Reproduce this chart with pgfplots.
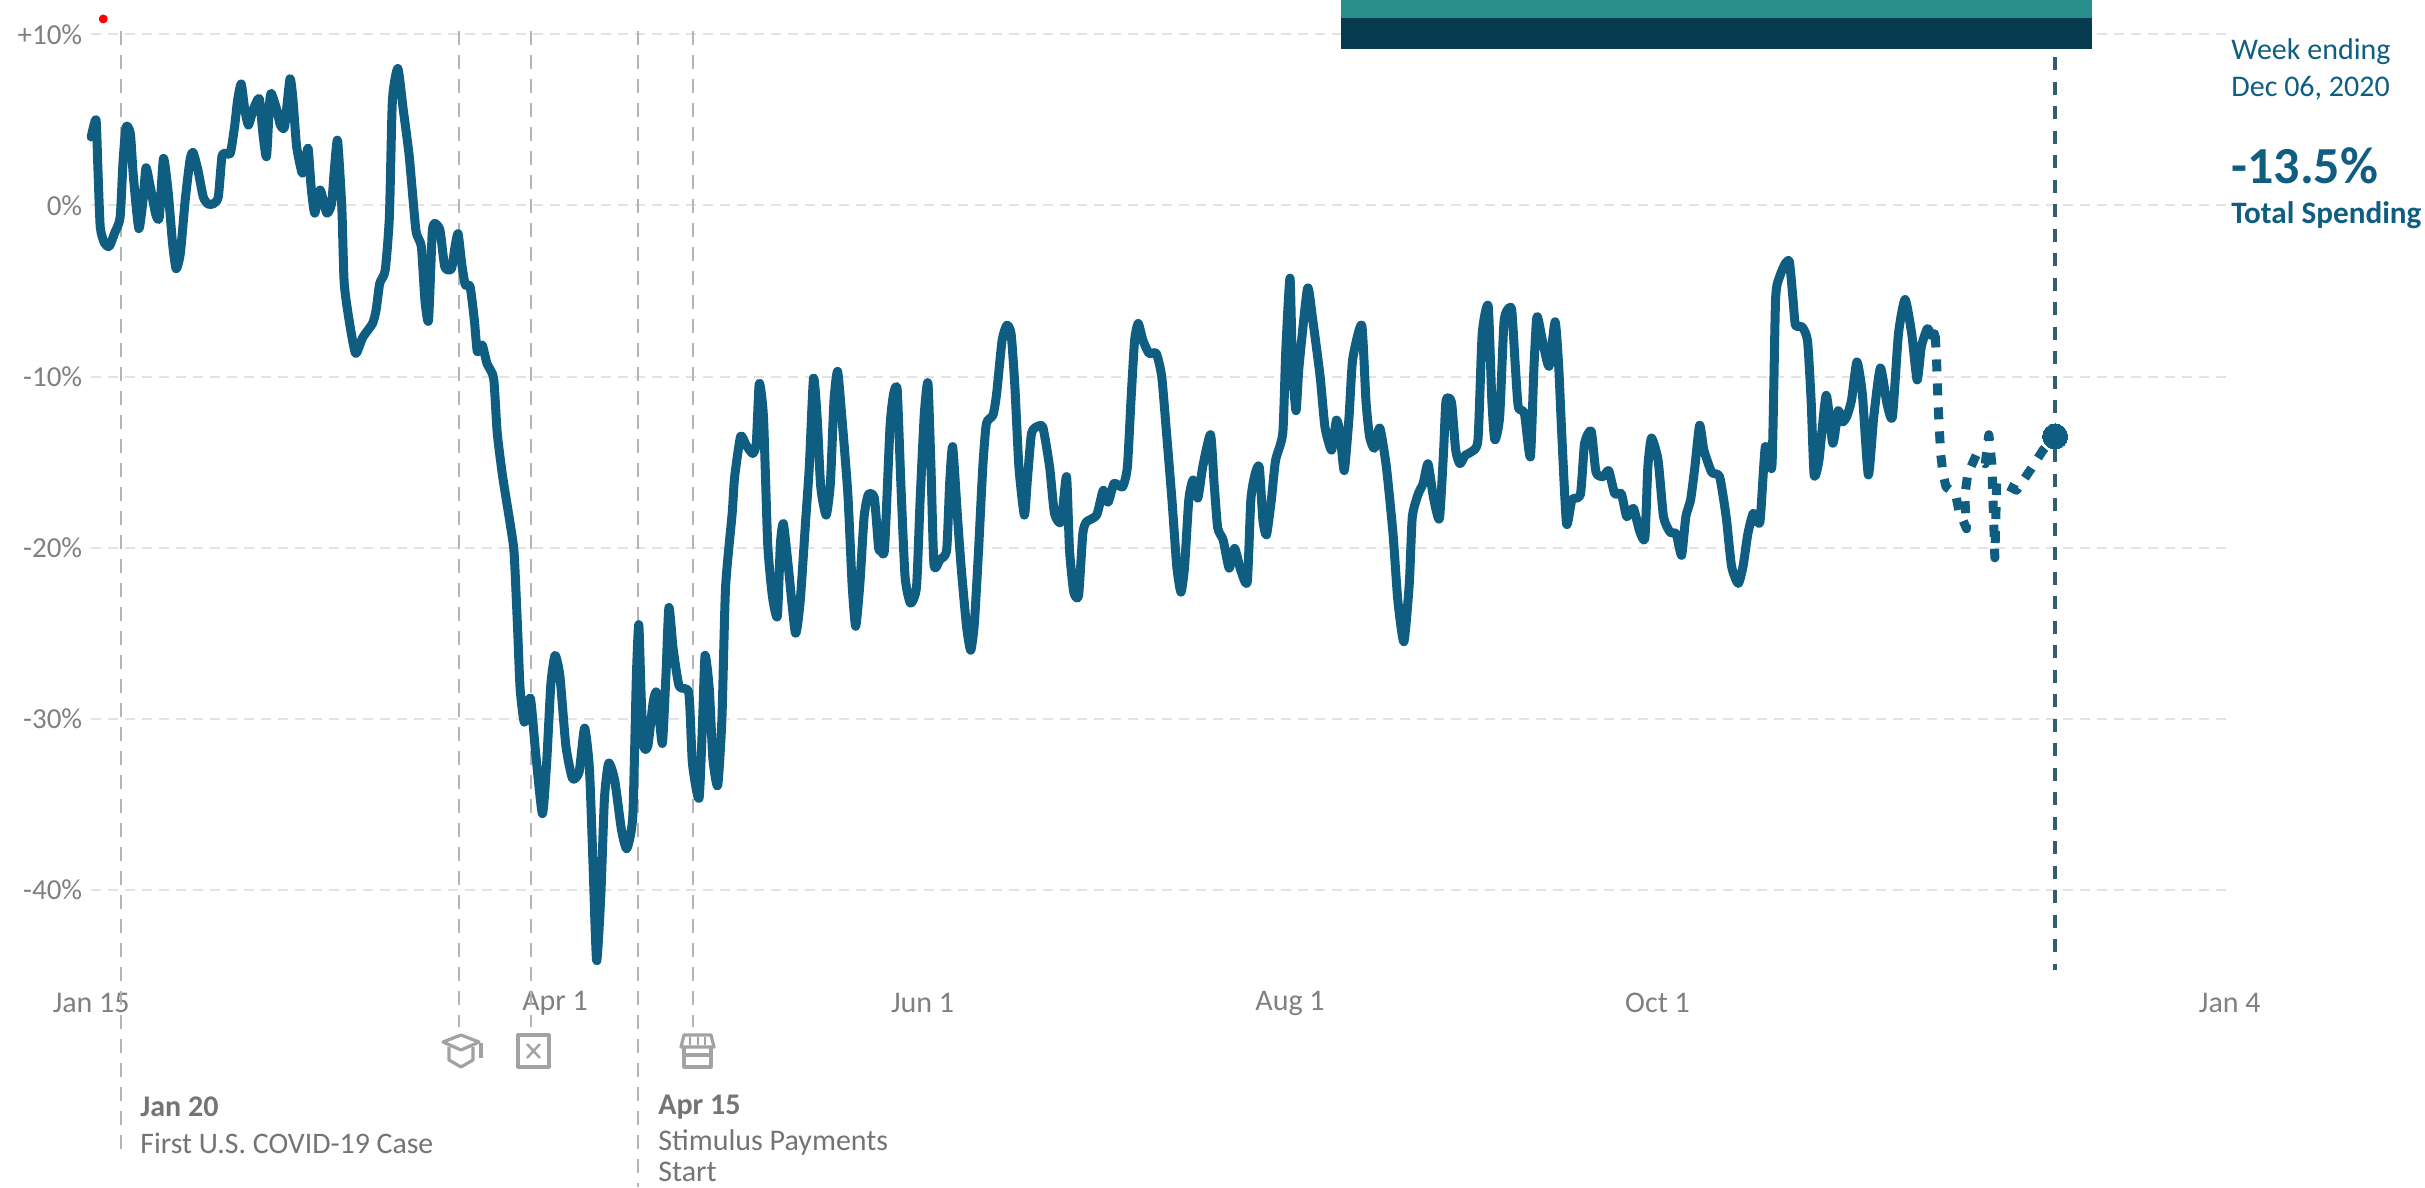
\documentclass[border=0pt]{standalone}
\usepackage{fontspec}
\setmainfont{Carlito}
\usepackage{pgfplots}
\pgfplotsset{compat=1.18}
\definecolor{spend}{HTML}{0F5E82}
\definecolor{teal1}{HTML}{288E8A}
\definecolor{navy1}{HTML}{063B50}
\definecolor{cursor}{HTML}{2F5F70}
\definecolor{gridc}{HTML}{E3E3E3}
\definecolor{eventc}{HTML}{B4B4B4}
\definecolor{tickc}{HTML}{808080}
\definecolor{iconc}{HTML}{A2A2A2}
\definecolor{evtxt}{HTML}{747474}

% x: days since Jan 15, y: percent change
\begin{document}
\begin{tikzpicture}
\path[use as bounding box] (-45.6pt,-106.35pt) rectangle (1166.9pt,487.65pt);
\begin{axis}[
  at={(0pt,0pt)}, anchor=south west,
  scale only axis, width=1069.26pt, height=470.47pt,
  xmin=0, xmax=355, ymin=-45, ymax=10,
  clip=false,
  axis line style={draw=none},
  tick style={draw=none},
  major tick length=0pt,
  ytick={-40,-30,-20,-10,0,10},
  yticklabels={-40\%,-30\%,-20\%,-10\%,0\%,+10\%},
  xtick={0,77,138,199,260,355},
  xticklabels={Jan 15,Apr 1,Jun 1,Aug 1,Oct 1,Jan 4},
  xticklabel style={anchor=center,yshift=-14pt,font=\fontsize{15}{18}\selectfont,text=tickc},
  yticklabel style={anchor=east,inner sep=0pt,xshift=-4.3pt,font=\fontsize{14.5}{17}\selectfont,text=tickc},
  ymajorgrids,
  grid style={gridc,line width=1pt,dash pattern=on 5pt off 3.5pt},
]
% event lines
\addplot[eventc,line width=0.85pt,dash pattern=on 7pt off 5pt] coordinates {(5,10.2)(5,-55.4)};
\addplot[eventc,line width=0.85pt,dash pattern=on 7pt off 5pt] coordinates {(61,10.2)(61,-48)};
\addplot[eventc,line width=0.85pt,dash pattern=on 7pt off 5pt] coordinates {(73,10.2)(73,-48)};
\addplot[eventc,line width=0.85pt,dash pattern=on 7pt off 5pt] coordinates {(90.8,10.2)(90.8,-57.4)};
\addplot[eventc,line width=0.85pt,dash pattern=on 7pt off 5pt] coordinates {(99.9,10.2)(99.9,-48)};
% cursor
\addplot[cursor,line width=1.8pt,dash pattern=on 6.5pt off 5.75pt] coordinates {(326,8.67)(326,-44.7)};
% red dot
\addplot[only marks,mark=*,mark size=2pt,red,mark options={draw=none,fill=red}] coordinates {(2,10.9)};
% weekly spending, solid part
\addplot[spend,line width=4.5pt,line join=round,line cap=round,smooth,tension=0.35] table {
0 4.0
0.8 5.0
1.1 2.3
1.5 -1.25
2.2 -2.2
3 -2.4
3.9 -1.6
4.8 -0.7
5.3 2.65
5.8 4.6
6.5 4.2
7 1.7
7.9 -1.35
8.6 0.3
9.1 2.2
9.8 1.1
10.7 -0.5
11.3 -0.7
12 2.75
12.8 0.7
13.5 -2.2
14.1 -3.7
14.8 -2.8
15.6 0.3
16.4 2.65
16.9 3.1
17.7 2.1
18.6 0.5
19.4 0.08
20.3 0.1
21.1 0.5
21.7 2.85
22.3 3.05
23.1 3.05
23.8 4.6
24.3 6.15
24.9 7.1
25.5 5.6
26.1 4.7
26.9 5.6
27.9 6.25
28.5 4.2
29.1 2.85
29.6 5.95
29.9 6.55
30.8 5.6
31.4 4.7
32.1 4.6
33 7.4
33.5 6.15
34.1 3.45
35 1.9
35.4 2.25
36 3.35
36.5 1.1
37.1 -0.45
38 0.9
39.1 -0.45
39.9 0.1
40.4 2.25
40.9 3.8
41.6 -0.1
42 -4.55
42.9 -6.9
43.9 -8.65
45.1 -7.7
46.7 -6.9
47.3 -6.1
47.9 -4.55
48.8 -3.8
49.5 -0.65
50 6.15
50.9 8.0
51.8 5.6
52.8 2.85
53.9 -1.45
54.8 -2.4
55.4 -5.55
56 -6.7
56.6 -1.65
57 -1.05
57.9 -1.45
58.7 -3.6
59.8 -3.7
60.4 -2.4
60.9 -1.65
61.5 -3.4
62.1 -4.65
62.9 -4.75
63.6 -6.7
64.1 -8.55
64.9 -8.15
65.7 -9.25
66.8 -10.1
67.4 -13.3
68.3 -15.85
69.5 -18.5
70.2 -20.3
70.8 -24.9
71.2 -28.25
71.9 -30.2
72.9 -28.8
73.8 -32.1
74.9 -35.55
75.6 -32.6
76.3 -28
77 -26.3
77.8 -27.5
78.8 -31.6
79.9 -33.5
81 -33.1
81.9 -30.55
82.7 -32.9
83.3 -38.5
83.9 -44.15
84.6 -40.3
85.2 -34.65
85.9 -32.6
86.9 -33.6
88 -36.45
88.9 -37.6
89.9 -35.7
90.5 -27.5
90.9 -24.5
91.3 -28.75
91.7 -31.6
92.4 -31.6
93.3 -29
93.9 -28.5
94.8 -31.45
95.4 -27.5
95.9 -23.5
96.6 -25.9
97.6 -28.1
99.2 -28.5
99.8 -32.6
100.9 -34.65
101.5 -30
101.9 -26.3
102.6 -28.25
103.2 -32.35
104 -33.9
104.7 -30
105.3 -22.35
106.4 -18
106.8 -15.9
107.8 -13.5
108.7 -14
109.8 -14.5
110.4 -13.9
110.9 -10.4
111.6 -12.4
112.3 -19.8
113.1 -22.9
113.9 -24
114.4 -19.8
114.9 -18.6
115.7 -21.05
116.9 -25
117.7 -23.1
118.6 -18.4
119.2 -15.3
119.9 -10.1
120.5 -12.35
121.1 -16.45
122 -18.1
122.7 -16.25
123.3 -11.4
123.9 -9.7
124.6 -12.35
125.6 -16.85
126.3 -22.1
126.9 -24.6
127.6 -22.1
128.3 -18.2
129 -16.9
130 -17.1
130.7 -20
131.1 -20.15
131.7 -20.05
132.6 -12.95
133.2 -11
133.8 -10.8
134.4 -16.25
135.1 -21.7
136 -23.25
137 -22.3
137.6 -17.2
138.3 -12.15
138.9 -10.4
139.4 -15.3
139.9 -21
140.9 -20.7
142 -20.15
142.5 -16.25
143 -14.1
143.8 -18.2
144.4 -21.1
145.3 -24.6
146 -26
146.6 -24.45
147.3 -20.15
148 -15.3
148.6 -12.75
149.7 -12.25
150.3 -11
151.2 -7.9
152 -7
152.7 -7.5
153.3 -10.4
154 -15.3
154.9 -18.1
155.4 -16.05
156.1 -13.3
157.2 -12.9
158 -13
159.1 -15.3
159.9 -18
161 -18.5
161.9 -15.85
162.4 -20.15
163.1 -22.6
163.9 -22.8
164.6 -19.2
165.2 -18.5
166.9 -18.1
168 -16.65
168.8 -17.35
169.8 -16.25
171.2 -16.45
172 -15.3
172.6 -11.4
173.2 -7.9
173.8 -6.9
174.6 -7.9
175.6 -8.65
176.8 -8.65
177.7 -10
178.5 -13.3
179.4 -17.2
180.2 -21.1
180.9 -22.6
181.5 -21.1
182.2 -17.2
182.9 -16.05
183.7 -17.1
184.5 -15.3
185.8 -13.4
186.4 -16.25
187 -18.85
187.9 -19.55
188.9 -21.2
189.8 -20.05
190.8 -21.3
191.9 -22
192.5 -17.2
193.2 -15.7
193.9 -15.3
194.5 -18.4
195.1 -19.25
195.9 -17.2
196.6 -14.9
197.8 -13.3
198.3 -8.45
199 -4.25
199.4 -9.4
200 -12
200.5 -9.4
201.9 -4.85
202.7 -6.5
204 -10
204.8 -12.95
205.9 -14.3
206.7 -12.55
207.3 -13.3
208 -15.5
208.8 -12.35
209.4 -9
210.9 -7
211.6 -11.4
212.2 -13.5
213 -14.2
213.9 -13
215 -15.3
216.1 -19.2
216.9 -23.1
217.9 -25.5
218.8 -22.1
219.3 -18.2
220.3 -16.85
221.1 -16.25
221.9 -15.1
222.8 -17.05
223.8 -18.3
224.5 -14.3
224.9 -11.4
225.8 -11.5
226.5 -14.3
227.2 -15.1
228.1 -14.6
229.1 -14.4
230.2 -13.7
230.9 -7.5
231.9 -5.9
232.5 -11.4
233 -13.7
233.8 -12.35
234.5 -6.9
235.1 -6.1
235.8 -6.1
236.4 -9.4
236.9 -11.8
237.9 -12.15
238.9 -14.7
239.5 -9.4
240 -6.5
240.9 -7.9
242 -9.4
243 -6.8
243.6 -9.4
244.1 -13.3
244.9 -18.6
245.8 -17.2
247.2 -16.9
247.9 -13.9
249 -13.2
249.8 -15.6
251 -15.85
251.9 -15.5
252.9 -16.85
254 -16.85
254.9 -18.2
256 -17.7
257 -19
257.9 -19.45
258.4 -15.3
259 -13.6
260.1 -14.9
261 -18.2
262.1 -19.1
263.1 -19.2
264 -20.45
264.7 -18.2
265.5 -17.2
266.2 -15.3
267 -12.85
267.7 -14.3
269 -15.6
270.3 -15.85
271.4 -18.2
272.3 -21.1
273.4 -22.1
274.2 -21.1
275 -19.2
275.9 -18
277 -18.5
277.9 -14.1
279 -15.2
279.6 -5.5
280.3 -4.15
281.2 -3.4
281.9 -3.3
282.5 -5.5
282.9 -7
284 -7.1
284.9 -7.9
285.5 -11.4
286 -15.75
286.8 -14.9
288 -11.1
289.1 -13.9
290 -12
290.7 -12.65
291.4 -12.35
292.2 -11.4
293.1 -9.15
294 -11
295 -15.75
295.9 -12.35
297 -9.5
298.1 -11.6
299 -12.35
300 -7.5
301.1 -5.5
302.2 -7.5
303.1 -10.2
303.8 -8.25
304.8 -7.2
305.5 -7.6
306 -7.5
};
% most recent weeks, dotted
\addplot[spend,line width=4.5pt,line join=round,dash pattern=on 6pt off 6pt] table {
306.1 -7.6
306.3 -8.85
306.6 -11.8
307 -14.5
307.4 -15.7
307.9 -16.45
309.5 -16.9
310 -17.8
311.3 -18.9
311 -17
311.5 -15.7
312.9 -14.6
314.4 -15.1
315 -13.4
315.5 -15.1
316 -20.6
316.3 -16.25
317.4 -16.25
319.6 -16.65
322 -15.4
324 -14.3
326 -13.5
};
\addplot[spend,only marks,mark=*,mark size=6.25pt,mark options={draw=spend,line width=0pt,fill=spend}] coordinates {(326,-13.5)};
\end{axis}
% page furniture in image pixels
\begin{scope}[shift={(-45.6pt,487.65pt)},x=0.5pt,y=-0.5pt]
  \fill[teal1] (1341,0) rectangle (2092,19);
  \fill[navy1] (1341,18) rectangle (2092,49);
  \begin{scope}[every node/.style={anchor=west,inner sep=0pt,text=spend}]
    \node at (2231,52) {\fontsize{15}{18}\selectfont Week ending};
    \node at (2231,88) {\fontsize{15}{18}\selectfont Dec 06, 2020};
    \node at (2231,166) {\fontsize{26}{30}\selectfont\bfseries -13.5\%};
    \node at (2231,215) {\fontsize{15.6}{18}\selectfont\bfseries Total Spending};
  \end{scope}
  \begin{scope}[every node/.style={anchor=west,inner sep=0pt,text=evtxt}]
    \node at (140,1107) {\fontsize{15}{18}\selectfont\bfseries Jan 20};
    \node at (140,1143) {\fontsize{14.9}{18}\selectfont First U.S. COVID-19 Case};
    \node at (658,1107) {\fontsize{15}{18}\selectfont\bfseries Apr 15};
    \node at (658,1143) {\fontsize{15}{18}\selectfont Stimulus Payments};
    \node at (658,1172) {\fontsize{15}{18}\selectfont Start};
  \end{scope}
  % icons
  \begin{scope}[iconc,line width=1.6pt,line join=round]
    \draw (443,1042) -- (461,1035) -- (479,1042) -- (461,1050) -- cycle;
    \draw (449,1047) -- (449,1060) -- (461,1067) -- (473,1060) -- (473,1047);
    \draw (481,1043) -- (481,1058);
    \draw (518,1035) rectangle (549,1067);
    \draw[line width=1.2pt] (527,1044) -- (540,1058) (540,1044) -- (527,1058);
    \draw (681,1047) -- (684,1035) -- (711,1035) -- (714,1047) -- cycle;
    \draw (684,1047) -- (684,1067) -- (711,1067) -- (711,1047);
    \draw (684,1055) -- (711,1055);
    \draw[line width=1pt] (690,1037) -- (690,1045) (697.5,1037) -- (697.5,1045) (705,1037) -- (705,1045);
  \end{scope}
\end{scope}
\end{tikzpicture}
\end{document}
